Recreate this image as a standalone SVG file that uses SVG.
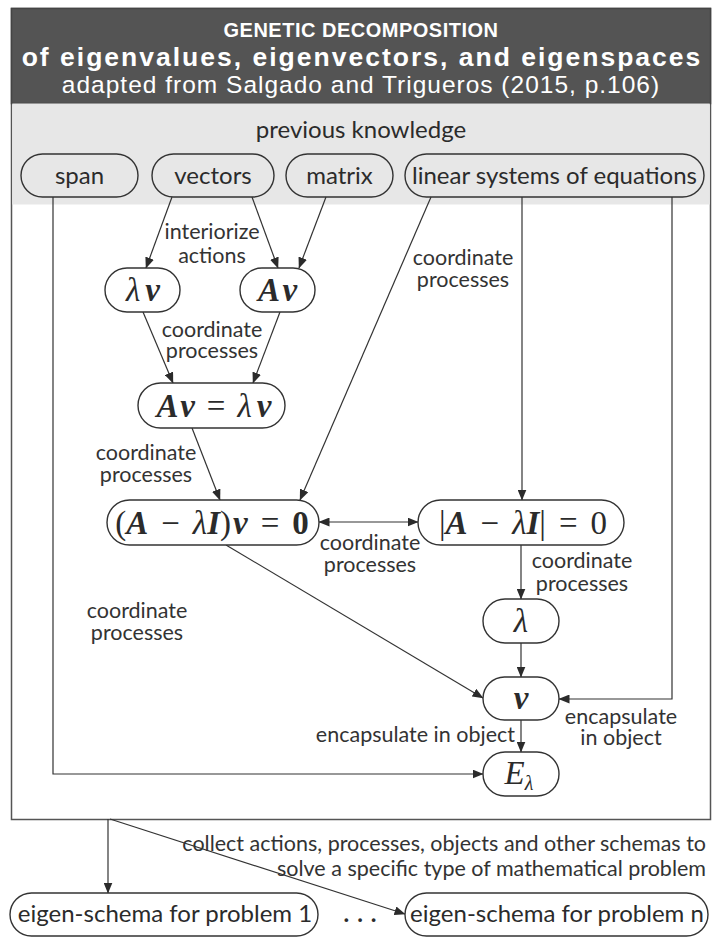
<svg xmlns="http://www.w3.org/2000/svg" width="714" height="940" viewBox="0 0 714 940">
  <defs>
    <marker id="arr" markerUnits="userSpaceOnUse" markerWidth="11" markerHeight="9" refX="10.5" refY="4.5" orient="auto-start-reverse" viewBox="0 0 11 9">
      <path d="M0,0 L11,4.5 L0,9 z" fill="#2b2b2b"/>
    </marker>
    <style>
      .frame { fill: #ffffff; stroke: #555555; stroke-width: 1.5; }
      .pill { fill: #ffffff; stroke: #333333; stroke-width: 1.4; }
      .pill-top { fill: none; stroke: #333333; stroke-width: 1.4; }
      .edge { fill: none; stroke: #333333; stroke-width: 1.2; }
      .arrow { marker-end: url(#arr); }
      .head { font-family: "Liberation Sans", Arial, sans-serif; fill: #ffffff; text-anchor: middle; }
      .lbl { font-family: Lato, "Open Sans", sans-serif; font-size: 21.5px; fill: #333333; text-anchor: middle; }
      .lbl-end { font-family: Lato, "Open Sans", sans-serif; font-size: 21.5px; fill: #333333; text-anchor: end; }
      .name { font-family: Lato, "Open Sans", sans-serif; font-size: 24px; fill: #2b2b2b; text-anchor: middle; }
      .m { font-family: "Liberation Serif", "DejaVu Serif", serif; font-size: 33px; fill: #2b2b2b; text-anchor: middle; }
      .i { font-style: italic; }
      .bi { font-style: italic; font-weight: bold; }
      .b { font-weight: bold; }
    </style>
  </defs>

  <!-- outer frame with title band and prerequisite band -->
  <rect class="frame" x="11.5" y="8.5" width="699" height="811"/>
  <rect x="11.5" y="8.5" width="699" height="95" fill="#545454" stroke="#444444" stroke-width="1.5"/>
  <rect x="12.25" y="103.5" width="697.5" height="101" fill="#e7e7e7"/>

  <g id="title">
    <text class="head" x="361" y="37" font-size="20" font-weight="bold" letter-spacing="0.5">GENETIC DECOMPOSITION</text>
    <text class="head" x="362" y="66" font-size="26.5" font-weight="bold" letter-spacing="2">of eigenvalues, eigenvectors, and eigenspaces</text>
    <text class="head" x="361" y="93" font-size="24.5" letter-spacing="1">adapted from Salgado and Trigueros (2015, p.106)</text>
  </g>

  <text class="name" x="361" y="138" font-size="23">previous knowledge</text>

  <!-- connectors -->
  <g id="connectors">
    <path class="edge arrow" d="M53,197 V774 H483"/>
    <path class="edge arrow" d="M172,197 L146,268"/>
    <path class="edge arrow" d="M252,197 L278,268"/>
    <path class="edge arrow" d="M326,197 L299,268"/>
    <path class="edge arrow" d="M431,197 L300,500"/>
    <path class="edge arrow" d="M522,197 V500"/>
    <path class="edge arrow" d="M672,197 V699 H559"/>
    <path class="edge arrow" d="M143,312 L173,383"/>
    <path class="edge arrow" d="M280,312 L253,383"/>
    <path class="edge arrow" d="M192,428 L220,500"/>
    <path class="edge arrow" d="M319,522 H418" marker-start="url(#arr)"/>
    <path class="edge arrow" d="M226,545 L483,698"/>
    <path class="edge arrow" d="M521,545 V599"/>
    <path class="edge arrow" d="M521,643 V677"/>
    <path class="edge arrow" d="M521,720 V752"/>
    <path class="edge arrow" d="M108,819 V893"/>
    <path class="edge arrow" d="M110,819 L405,914"/>

    <text class="lbl"><tspan x="212" y="239">interiorize</tspan><tspan x="212" y="263">actions</tspan></text>
    <text class="lbl"><tspan x="212" y="337">coordinate</tspan><tspan x="212" y="358">processes</tspan></text>
    <text class="lbl"><tspan x="146" y="460">coordinate</tspan><tspan x="146" y="482">processes</tspan></text>
    <text class="lbl"><tspan x="463" y="265">coordinate</tspan><tspan x="463" y="287">processes</tspan></text>
    <text class="lbl"><tspan x="370" y="550">coordinate</tspan><tspan x="370" y="572">processes</tspan></text>
    <text class="lbl"><tspan x="582" y="568">coordinate</tspan><tspan x="582" y="591">processes</tspan></text>
    <text class="lbl"><tspan x="137" y="618">coordinate</tspan><tspan x="137" y="640">processes</tspan></text>
    <text class="lbl-end" x="515" y="742">encapsulate in object</text>
    <text class="lbl"><tspan x="621" y="724">encapsulate</tspan><tspan x="621" y="745">in object</tspan></text>
    <text class="lbl-end"><tspan x="706" y="851">collect actions, processes, objects and other schemas to</tspan><tspan x="706" y="876">solve a specific type of mathematical problem</tspan></text>
  </g>

  <!-- prerequisite concepts -->
  <g id="span"><rect class="pill-top" x="21" y="154" width="117" height="43" rx="21.5"/><text class="name" x="79.5" y="184">span</text></g>
  <g id="vectors"><rect class="pill-top" x="152" y="154" width="122" height="43" rx="21.5"/><text class="name" x="213" y="184">vectors</text></g>
  <g id="matrix"><rect class="pill-top" x="286" y="154" width="107" height="43" rx="21.5"/><text class="name" x="339.5" y="184">matrix</text></g>
  <g id="linear-systems"><rect class="pill-top" x="405" y="154" width="299" height="43" rx="21.5"/><text class="name" x="554.5" y="184">linear systems of equations</text></g>

  <!-- mental constructions -->
  <g id="lambda-v"><rect class="pill" x="105" y="268" width="75" height="44" rx="22"/><text class="m" x="143" y="301"><tspan class="i">λ</tspan><tspan class="bi" dx="5">v</tspan></text></g>
  <g id="a-v"><rect class="pill" x="240" y="268" width="75" height="44" rx="22"/><text class="m" x="277.5" y="301"><tspan class="bi">A</tspan><tspan class="bi" dx="5">v</tspan></text></g>
  <g id="eigen-equation"><rect class="pill" x="138" y="383" width="147" height="45" rx="22.5"/><text class="m" x="214" y="417"><tspan class="bi">A</tspan><tspan class="bi" dx="4">v</tspan><tspan dx="12">=</tspan><tspan dx="12" class="i">λ</tspan><tspan class="bi" dx="5">v</tspan></text></g>
  <g id="homogeneous-system"><rect class="pill" x="107" y="500" width="212" height="45" rx="22.5"/><text class="m" x="212" y="534">(<tspan class="bi">A</tspan><tspan dx="13">−</tspan><tspan dx="13" class="i">λ</tspan><tspan class="bi">I</tspan>)<tspan class="bi" dx="2">v</tspan><tspan dx="13">=</tspan><tspan dx="13" class="b">0</tspan></text></g>
  <g id="characteristic-equation"><rect class="pill" x="418" y="500" width="206" height="45" rx="22.5"/><text class="m" x="523" y="534">|<tspan class="bi">A</tspan><tspan dx="13">−</tspan><tspan dx="13" class="i">λ</tspan><tspan class="bi">I</tspan>|<tspan dx="13">=</tspan><tspan dx="13">0</tspan></text></g>
  <g id="lambda"><rect class="pill" x="483" y="599" width="76" height="44" rx="22"/><text class="m" x="521" y="632"><tspan class="i">λ</tspan></text></g>
  <g id="v"><rect class="pill" x="483" y="677" width="76" height="43" rx="21.5"/><text class="m" x="521" y="709"><tspan class="bi">v</tspan></text></g>
  <g id="eigenspace"><rect class="pill" x="483" y="752" width="76" height="44" rx="22"/><text class="m i" x="519" y="784">E<tspan font-size="20" dy="6">λ</tspan></text></g>

  <!-- schemas for specific problems -->
  <g id="schema-1"><rect class="pill" x="10" y="893" width="308" height="43" rx="21.5"/><text class="name" x="165" y="922" font-size="23">eigen-schema for problem 1</text></g>
  <text class="name b" x="364" y="922" font-size="26" letter-spacing="8">...</text>
  <g id="schema-n"><rect class="pill" x="405" y="893" width="303" height="43" rx="21.5"/><text class="name" x="557" y="922" font-size="23">eigen-schema for problem n</text></g>
</svg>
